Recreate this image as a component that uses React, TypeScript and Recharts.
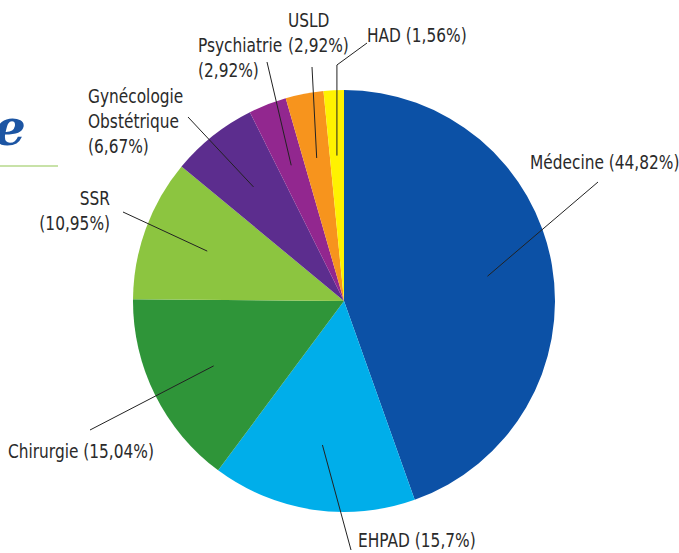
import React from "react";
import { PieChart, Pie, Cell } from "recharts";

const categories = [
  "Médecine",
  "EHPAD",
  "Chirurgie",
  "SSR",
  "Gynécologie Obstétrique",
  "Psychiatrie",
  "USLD",
  "HAD",
];
const shares = [44.82, 15.7, 15.04, 10.95, 6.67, 2.92, 2.92, 1.56];
const colors = ["#0c51a6", "#00aeea", "#2f9539", "#8cc540", "#5c2d8e", "#92278f", "#f7941d", "#fff200"];

const chartData = categories.map((name, i) => ({ name, value: shares[i] }));

// label text blocks: lines, anchor, leader end, optional elbow
const labelLayout: any[] = [
  { lines: ["Médecine (44,82%)"], x: 530, y: 169, anchor: "start", end: [598, 182] },
  { lines: ["EHPAD (15,7%)"], x: 358, y: 547, anchor: "start", end: [351, 550] },
  { lines: ["Chirurgie (15,04%)"], x: 8, y: 458, anchor: "start", end: [90, 430] },
  { lines: ["SSR", "(10,95%)"], x: 110, y: 205, anchor: "end", end: [123, 212] },
  { lines: ["Gynécologie", "Obstétrique", "(6,67%)"], x: 88, y: 103, anchor: "start", end: [188, 117] },
  { lines: ["Psychiatrie", "(2,92%)"], x: 198, y: 52, anchor: "start", end: [267, 62] },
  { lines: ["USLD", "(2,92%)"], x: 288, y: 27, anchor: "start", end: [312, 67] },
  { lines: ["HAD (1,56%)"], x: 367, y: 42, anchor: "start", end: [367, 43], elbowY: 65 },
];

const RAD = Math.PI / 180;
const FONT = "'DejaVu Sans', sans-serif";

const renderLabel = (props: any) => {
  const { cx, cy, midAngle, outerRadius, index } = props;
  const l = labelLayout[index];
  const r = outerRadius * 0.69;
  const sx = cx + r * Math.cos(-midAngle * RAD);
  const sy = cy + r * Math.sin(-midAngle * RAD);
  const pts = [[sx, sy]];
  if (l.elbowY !== undefined) pts.push([sx, l.elbowY]);
  pts.push(l.end);
  return (
    <g key={`lbl-${index}`}>
      <polyline
        points={pts.map((p) => p.join(",")).join(" ")}
        fill="none"
        stroke="#222"
        strokeWidth={1}
      />
      <text
        transform={`translate(${l.x},${l.y}) scale(0.77,1)`}
        x={0}
        y={0}
        textAnchor={l.anchor}
        fontFamily={FONT}
        fontSize={20}
        fill="#2a2a2a"
      >
        {l.lines.map((line: string, j: number) => (
          <tspan key={j} x={0} dy={j === 0 ? 0 : 25}>
            {line}
          </tspan>
        ))}
      </text>
    </g>
  );
};

export default function App() {
  return (
    <div style={{ position: "absolute", left: 0, top: 0, width: 679, height: 553, background: "#fff", overflow: "hidden" }}>
      <svg width={679} height={553} style={{ position: "absolute", left: 0, top: 0 }}>
        <text x={-6} y={145} fontFamily="'DejaVu Serif', 'Liberation Serif', serif" fontStyle="italic" fontWeight="bold" fontSize={50} fill="#1c55a3">
          e
        </text>
        <line x1={0} y1={166} x2={58} y2={166} stroke="#c8e2a8" strokeWidth={2} />
      </svg>
      <PieChart width={679} height={553} style={{ position: "absolute", left: 0, top: 0 }}>
        <Pie
          data={chartData}
          dataKey="value"
          nameKey="name"
          cx={339}
          cy={296}
          outerRadius={211}
          startAngle={90}
          endAngle={-270}
          stroke="none"
          label={renderLabel}
          labelLine={false}
          isAnimationActive={false}
        >
          {chartData.map((d, i) => (
            <Cell key={d.name} fill={colors[i]} />
          ))}
        </Pie>
      </PieChart>
    </div>
  );
}
